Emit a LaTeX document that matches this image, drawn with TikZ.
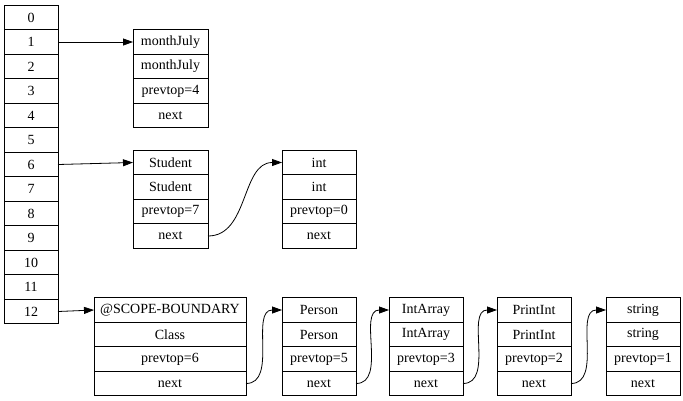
\documentclass[tikz,border=0pt]{standalone}
\usepackage{fontspec}
\setmainfont{Liberation Serif}
\usetikzlibrary{positioning,arrows.meta}

\tikzset{
	cell/.style={draw, line width=0.8pt, outer sep=0pt, inner sep=0pt,
		minimum height=24.5pt, minimum width=75pt},
	slot/.style={cell, minimum width=54pt},
	link/.style={-{Triangle[length=10pt,width=7pt]}, line width=0.8pt}
}

\begin{document}
\begin{tikzpicture}[x=1pt, y=1pt, font=\fontsize{14}{16}\selectfont]
		\useasboundingbox (0,0) rectangle (683,-400);
		% symbol table slots
		\foreach \i in {0,...,12}
			\node[slot] (s\i) at (31,{-17.5-24.5*\i}) {\i};

		% scope 1
		\node[cell] (july1) at (170.5,-42) {monthJuly};
		\node[cell, below=0pt of july1] (july2) {monthJuly};
		\node[cell, below=0pt of july2] (july3) {prevtop=4};
		\node[cell, below=0pt of july3] (july4) {next};

		% scope 6
		\node[cell] (stud1) at (170.5,-162.5) {Student};
		\node[cell, below=0pt of stud1] (stud2) {Student};
		\node[cell, below=0pt of stud2] (stud3) {prevtop=7};
		\node[cell, below=0pt of stud3] (stud4) {next};

		\node[cell, minimum width=74pt] (int1) at (319,-162.5) {int};
		\node[cell, minimum width=74pt, below=0pt of int1] (int2) {int};
		\node[cell, minimum width=74pt, below=0pt of int2] (int3) {prevtop=0};
		\node[cell, minimum width=74pt, below=0pt of int3] (int4) {next};

		% scope 12
		\node[cell, minimum width=152pt] (scope1) at (170,-310) {@SCOPE-BOUNDARY};
		\node[cell, minimum width=152pt, below=0pt of scope1] (scope2) {Class};
		\node[cell, minimum width=152pt, below=0pt of scope2] (scope3) {prevtop=6};
		\node[cell, minimum width=152pt, below=0pt of scope3] (scope4) {next};

		\node[cell, minimum width=74pt] (pers1) at (319,-310) {Person};
		\node[cell, minimum width=74pt, below=0pt of pers1] (pers2) {Person};
		\node[cell, minimum width=74pt, below=0pt of pers2] (pers3) {prevtop=5};
		\node[cell, minimum width=74pt, below=0pt of pers3] (pers4) {next};

		\node[cell, minimum width=74pt] (arr1) at (426,-310) {IntArray};
		\node[cell, minimum width=74pt, below=0pt of arr1] (arr2) {IntArray};
		\node[cell, minimum width=74pt, below=0pt of arr2] (arr3) {prevtop=3};
		\node[cell, minimum width=74pt, below=0pt of arr3] (arr4) {next};

		\node[cell, minimum width=74pt] (prn1) at (534,-310) {PrintInt};
		\node[cell, minimum width=74pt, below=0pt of prn1] (prn2) {PrintInt};
		\node[cell, minimum width=74pt, below=0pt of prn2] (prn3) {prevtop=2};
		\node[cell, minimum width=74pt, below=0pt of prn3] (prn4) {next};

		\node[cell, minimum width=74pt] (str1) at (643,-310) {string};
		\node[cell, minimum width=74pt, below=0pt of str1] (str2) {string};
		\node[cell, minimum width=74pt, below=0pt of str2] (str3) {prevtop=1};
		\node[cell, minimum width=74pt, below=0pt of str3] (str4) {next};

		% links
		\draw[link] (s1.east) -- (july1.west);
		\draw[link] (s6.east) -- (stud1.west);
		\draw[link] (s12.east) -- (scope1.west);
		\draw[link] (stud4.east) to[out=0, in=180] (int1.west);
		\draw[link] (scope4.east) to[out=0, in=180] (pers1.west);
		\draw[link] (pers4.east) to[out=0, in=180] (arr1.west);
		\draw[link] (arr4.east) to[out=0, in=180] (prn1.west);
		\draw[link] (prn4.east) to[out=0, in=180] (str1.west);
	\end{tikzpicture}
\end{document}
